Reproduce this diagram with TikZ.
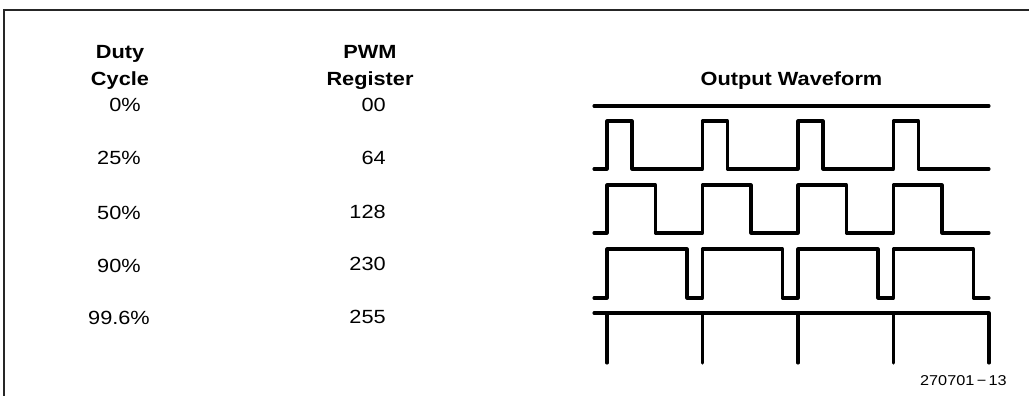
\documentclass[tikz,border=0pt]{standalone}
\usepackage{fontspec}
\setmainfont[FakeStretch=1.14]{Liberation Sans}
\begin{document}
\begin{tikzpicture}[x=0.75pt,y=-0.75pt,
  hdr/.style={anchor=base,inner sep=0pt,font=\fontsize{14.3pt}{16pt}\selectfont\bfseries},
  val/.style={anchor=base,inner sep=0pt,font=\fontsize{14.3pt}{16pt}\selectfont},
  num/.style={anchor=base east,inner sep=0pt,font=\fontsize{14.3pt}{16pt}\selectfont},
  wave/.style={line width=2.3pt,line join=round,line cap=round},
  frame/.style={line width=1.4pt,black!85}]
\useasboundingbox (0,0) rectangle (1029,396);
% frame
\draw[frame] (1029,10) -- (4,10) -- (4,396);
% headers
\node[hdr] (duty) at (120,58) {Duty};
\node[hdr] (cycle) at (120,85) {Cycle};
\node[hdr] (pwm) at (370,58) {PWM};
\node[hdr] (reg) at (370,85) {Register};
\node[hdr] (out) at (791.5,85) {Output Waveform};
% duty cycle values
\node[val] (d0) at (125,111) {0\%};
\node[val] (d25) at (119,164) {25\%};
\node[val] (d50) at (119,219) {50\%};
\node[val] (d90) at (119,272) {90\%};
\node[val] (d99) at (119,324) {99.6\%};
% register values
\node[num] (p0) at (386,111) {00};
\node[num] (p64) at (386,164) {64};
\node[num] (p128) at (386,218) {128};
\node[num] (p230) at (386,270) {230};
\node[num] (p255) at (386,323) {255};
% waveforms
\draw[wave] (594,106) -- (989,106);
\draw[wave] (594,169) foreach \r in {607,702.5,798,893.5} { -- (\r,169) -- (\r,121) -- (\r+25,121) -- (\r+25,169) } -- (989,169);
\draw[wave] (594,233) foreach \r in {607,702.5,798,893.5} { -- (\r,233) -- (\r,185) -- (\r+48.5,185) -- (\r+48.5,233) } -- (989,233);
\draw[wave] (594,298) foreach \r in {607,702.5,798,893.5} { -- (\r,298) -- (\r,249) -- (\r+80,249) -- (\r+80,298) } -- (989,298);
\draw[wave] (594,313) -- (989,313) -- (989,363);
\foreach \r in {607,702.5,798,893.5} { \draw[wave] (\r,313) -- (\r,363); }
% figure number
\node[anchor=base east,inner sep=0pt,font=\fontsize{10.7pt}{12pt}\selectfont] (fig) at (1007,385) {270701\,−\,13};
\end{tikzpicture}
\end{document}
